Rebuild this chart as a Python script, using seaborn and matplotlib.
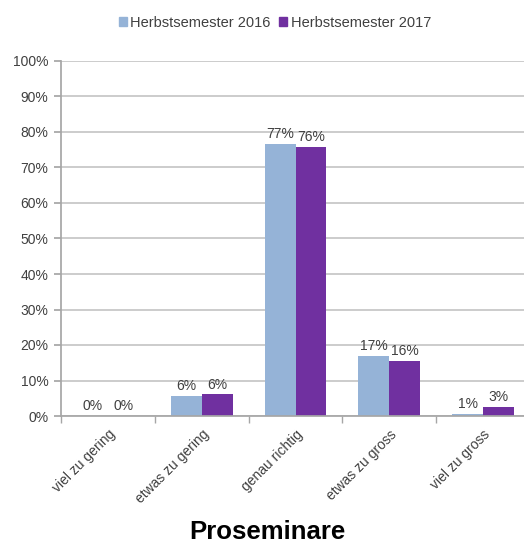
import matplotlib
matplotlib.use("Agg")
import matplotlib.pyplot as plt
import seaborn as sns
import pandas as pd
import numpy as np

categories = ["viel zu gering", "etwas zu gering", "genau richtig", "etwas zu gross", "viel zu gross"]
series = ["Herbstsemester 2016", "Herbstsemester 2017"]
values_2016 = [0.0, 5.6, 76.6, 16.9, 0.6]
values_2017 = [0.0, 6.1, 75.8, 15.6, 2.6]
yticks = [0, 10, 20, 30, 40, 50, 60, 70, 80, 90, 100]
title = "Proseminare"
colors = ["#95B3D7", "#7030A0"]

sns.set_theme(style="white")
plt.rcParams['font.family'] = ['Liberation Sans', 'DejaVu Sans']

df = pd.DataFrame({
    "cat": categories * 2,
    "val": values_2016 + values_2017,
    "sem": [series[0]] * len(categories) + [series[1]] * len(categories),
})

fig = plt.figure(figsize=(5.24, 5.48), dpi=100)
W, H = 524, 548
ax = fig.add_axes([61 / W, (H - 416) / H, 469 / W, 355 / H])

sns.barplot(data=df, x="cat", y="val", hue="sem", order=categories, hue_order=series,
            palette=colors, width=0.66, saturation=1, ax=ax, legend=False, errorbar=None,
            linewidth=0, edgecolor="none")

ax.set_ylim(0, 100)
ax.set_xlim(-0.5, 4.5)
ax.set_yticks(yticks)
ax.set_yticklabels([f"{t}%" for t in yticks], fontsize=10, color="#404040")
ax.yaxis.grid(True, color="#BFBFBF", linewidth=1.1)
ax.set_axisbelow(True)
ax.set_xlabel("")
ax.set_ylabel("")

for sp in ["top", "right"]:
    ax.spines[sp].set_visible(False)
ax.spines["left"].set_color("#A6A6A6")
ax.spines["bottom"].set_color("#A6A6A6")
ax.tick_params(axis="y", left=True, length=5, color="#A6A6A6", pad=4)
ax.tick_params(axis="x", which="major", length=0, pad=8)
ax.set_xticks(np.arange(-0.5, 5.0, 1.0), minor=True)
ax.tick_params(axis="x", which="minor", bottom=True, length=5, color="#A6A6A6")
ax.set_xticks(range(len(categories)))
ax.set_xticklabels(categories, rotation=45, ha="right", rotation_mode="anchor",
                   fontsize=10, color="#404040")

for cont in ax.containers:
    ax.bar_label(cont, labels=[f"{v:.0f}%" for v in cont.datavalues],
                 fontsize=10, color="#404040", padding=2)

handles = [plt.Rectangle((0, 0), 1, 1, color=c) for c in colors]
fig.legend(handles, series, loc="upper center", bbox_to_anchor=(0.525, 0.995), ncol=2,
           frameon=False, fontsize=10.5, handlelength=0.55, handleheight=0.55,
           handletextpad=0.25, columnspacing=0.6, labelcolor="#404040")

fig.text(0.51, 0.008, title, ha="center", va="bottom", fontsize=18.5, fontweight="bold", color="black")

fig.savefig("out.png", dpi=100)
